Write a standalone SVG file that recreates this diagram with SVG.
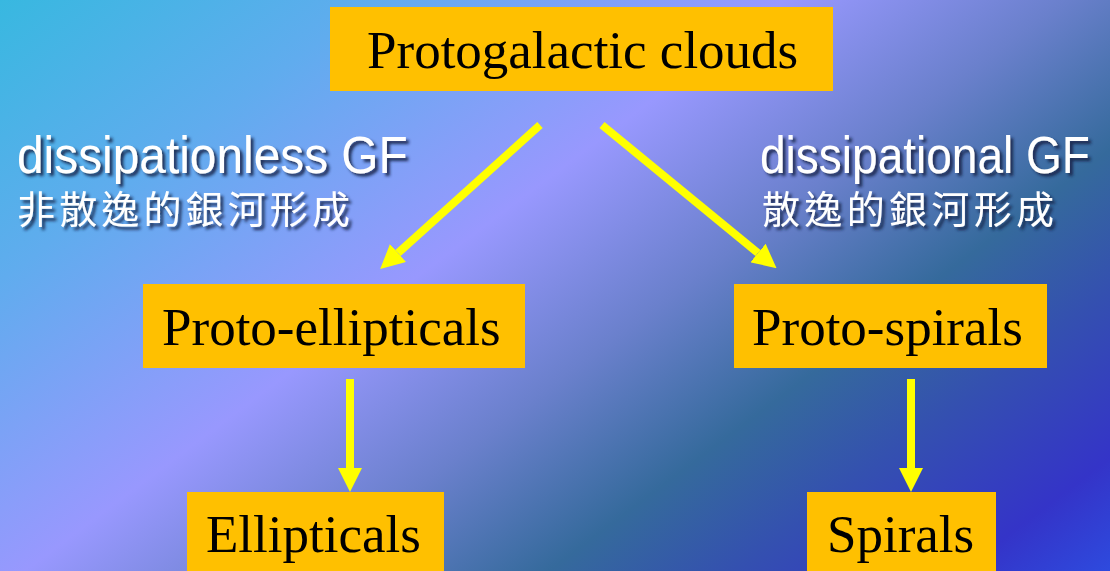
<svg xmlns="http://www.w3.org/2000/svg" width="1110" height="571" viewBox="0 0 1110 571">
  <defs>
    <linearGradient id="bg" gradientUnits="userSpaceOnUse" x1="0" y1="0" x2="674" y2="898">
      <stop offset="0" stop-color="#38b8e0"/>
      <stop offset="0.2" stop-color="#60acee"/>
      <stop offset="0.42" stop-color="#9898fe"/>
      <stop offset="0.57" stop-color="#6a80cc"/>
      <stop offset="0.7" stop-color="#356a9c"/>
      <stop offset="0.8" stop-color="#3450b0"/>
      <stop offset="0.92" stop-color="#3434c8"/>
      <stop offset="1" stop-color="#2e4ade"/>
    </linearGradient>
    <filter id="shadow" x="-2%" y="-20%" width="104%" height="150%">
      <feDropShadow dx="3" dy="3" stdDeviation="1.5" flood-color="#18244a" flood-opacity="0.9"/>
    </filter>
    <marker id="head" viewBox="0 0 24 24" refX="0" refY="12" markerWidth="24" markerHeight="24" markerUnits="userSpaceOnUse" orient="auto">
      <path d="M0,0 L24,12 L0,24 Z" fill="#ffff00"/>
    </marker>
    <style>
      .box { fill: #ffc000; }
      .lbl { font-family: "Liberation Serif", "Times New Roman", serif; font-size: 53px; fill: #000; }
      .en { font-family: "Liberation Sans", Arial, sans-serif; font-size: 52px; fill: #ffffff; }
      .zh { font-family: "Noto Sans CJK TC", "Noto Sans CJK SC", sans-serif; font-size: 38px; fill: #ffffff; }
      .sh { filter: url(#shadow); }
      .arrow { stroke: #ffff00; stroke-width: 8; fill: none; marker-end: url(#head); }
    </style>
  </defs>
  <rect x="0" y="0" width="1110" height="571" fill="url(#bg)"/>

  <g id="label-dissipationless" class="sh">
    <text class="en" transform="translate(17,173) scale(0.92,1)" x="0" y="0">dissipationless GF</text>
    <text class="zh" x="17" y="223" textLength="333" lengthAdjust="spacing">非散逸的銀河形成</text>
  </g>
  <g id="label-dissipational" class="sh">
    <text class="en" transform="translate(760,173) scale(0.885,1)" x="0" y="0">dissipational GF</text>
    <text class="zh" x="762" y="223" textLength="292" lengthAdjust="spacing">散逸的銀河形成</text>
  </g>

  <g id="connectors">
    <line class="arrow" x1="540" y1="125" x2="398" y2="253"/>
    <line class="arrow" x1="602" y1="125" x2="758" y2="253"/>
    <line class="arrow" x1="350" y1="379" x2="350" y2="468"/>
    <line class="arrow" x1="911" y1="379" x2="911" y2="468"/>
  </g>

  <g id="node-protogalactic">
    <rect class="box" x="330" y="7" width="503" height="84"/>
    <text class="lbl" x="367" y="68">Protogalactic clouds</text>
  </g>
  <g id="node-proto-ellipticals">
    <rect class="box" x="143" y="284" width="382" height="84"/>
    <text class="lbl" x="162" y="345">Proto-ellipticals</text>
  </g>
  <g id="node-proto-spirals">
    <rect class="box" x="734" y="284" width="313" height="84"/>
    <text class="lbl" x="752" y="345">Proto-spirals</text>
  </g>
  <g id="node-ellipticals">
    <rect class="box" x="187" y="492" width="257" height="84"/>
    <text class="lbl" x="206" y="552">Ellipticals</text>
  </g>
  <g id="node-spirals">
    <rect class="box" x="807" y="492" width="189" height="84"/>
    <text class="lbl" x="827" y="552">Spirals</text>
  </g>
</svg>
